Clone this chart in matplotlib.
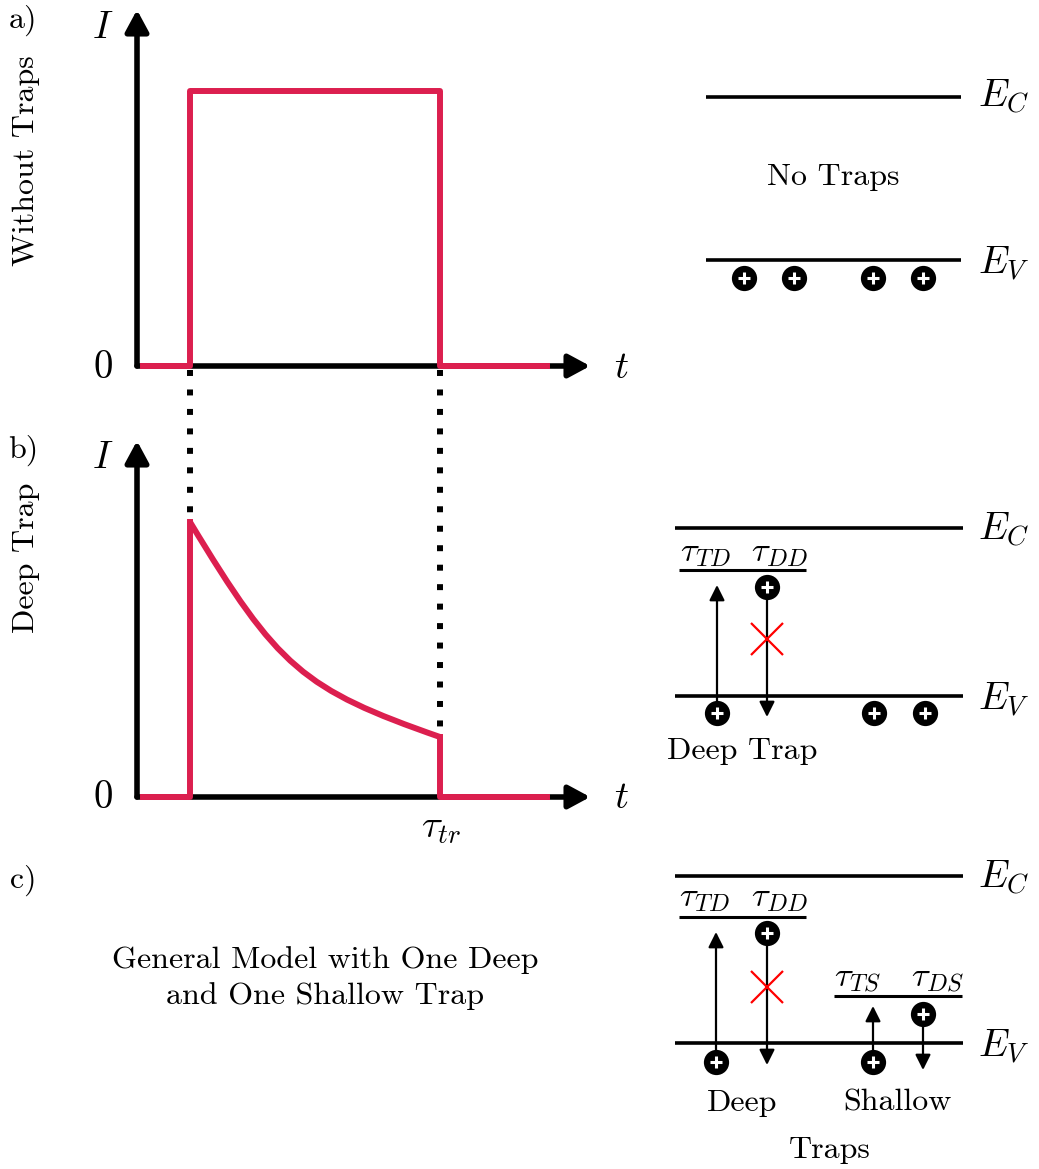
import matplotlib
matplotlib.use("Agg")
import matplotlib.pyplot as plt
from matplotlib.path import Path
from matplotlib.patches import PathPatch

plt.rcParams['font.family'] = 'cmr10'
plt.rcParams['mathtext.fontset'] = 'cm'
plt.rcParams['axes.unicode_minus'] = False

W, H = 1039, 1169
RED = '#dc1f4f'

# current traces: t in arbitrary units, I normalised to the pulse height
t_pulse = [0.11, 1.0, 1.0, 5.72, 5.72, 7.74]
I_pulse = [0, 0, 1.0, 1.0, 0, 0]

# deep trap trace: step up, decay (cubic bezier control points), step down
t_rise = [0.11, 1.0, 1.0]
I_rise = [0, 0, 1.0]
t_decay_ctrl = [1.0, 2.66, 3.13, 5.72]
I_decay_ctrl = [1.0, 0.47, 0.392, 0.218]
t_fall = [5.72, 5.72, 7.74]
I_fall = [0.218, 0, 0]

t_on, t_off = 1.0, 5.72
T_MAX, I_MAX = 8.55, 1.295
PX_T, PX_I = 53, 275     # pixels per unit

# band diagrams (pixel positions on the page)
a_EC, a_EV, a_x = 97, 260, (706, 961)
a_holes_x = [744, 794, 873, 923]
a_holes_y = 278

b_EC, b_trap, b_EV = 528, 570, 696
c_EC, c_deep, c_shallow, c_EV = 876, 917, 996, 1043
level_x = (675, 963)
deep_x = (679, 806)
shallow_x = (834, 962)

fig = plt.figure(figsize=(W / 100, H / 100), dpi=100)
ax = fig.add_axes([0, 0, 1, 1])
ax.set_xlim(0, W)
ax.set_ylim(H, 0)
ax.axis('off')


def arrow(axp, start, end, lw, ms, hl=0.4, hw=0.2):
    axp.annotate('', xy=end, xytext=start,
                 arrowprops=dict(arrowstyle='-|>,head_length=%g,head_width=%g' % (hl, hw),
                                 lw=lw, color='black', mutation_scale=ms,
                                 shrinkA=0, shrinkB=0),
                 annotation_clip=False, zorder=3)


def current_panel(x0, y0):
    axp = fig.add_axes([x0 / W, (H - y0) / H, T_MAX * PX_T / W, I_MAX * PX_I / H])
    axp.set_xlim(0, T_MAX)
    axp.set_ylim(0, I_MAX)
    axp.axis('off')
    arrow(axp, (0, 0), (T_MAX, 0), 4, 26, 0.5, 0.27)
    arrow(axp, (0, 0), (0, I_MAX), 4, 26, 0.5, 0.27)
    return axp


ax_a = current_panel(137, 366)
ax_a.plot(t_pulse, I_pulse, color=RED, lw=4.3, clip_on=False, zorder=4)

ax_b = current_panel(137, 797)
ax_b.plot(t_rise, I_rise, color=RED, lw=4.3, clip_on=False, zorder=4)
ax_b.plot(t_fall, I_fall, color=RED, lw=4.3, clip_on=False, zorder=4)
decay = Path(list(zip(t_decay_ctrl, I_decay_ctrl)),
             [Path.MOVETO, Path.CURVE4, Path.CURVE4, Path.CURVE4])
ax_b.add_patch(PathPatch(decay, facecolor='none', edgecolor=RED, lw=4.3,
                         clip_on=False, zorder=4))
# dotted guide lines between the two panels
dot = dict(color='black', lw=4.3, linestyle=(0, (1.0, 2.26)), dash_capstyle='butt',
           clip_on=False, zorder=2)
ax_b.plot([t_on, t_on], [1.553, 1.03], **dot)
ax_b.plot([t_off, t_off], [1.553, 0.25], **dot)

# left side labels
big = 28
txt = 23
tau = 25
for y in (28, 458):
    ax.text(103, y, '$I$', fontsize=big, ha='center', va='center')
for y in (368, 798):
    ax.text(103, y, '0', fontsize=big, ha='center', va='center')
    ax.text(621, y, '$t$', fontsize=big, ha='center', va='center')
ax.text(441, 828, r'$\tau_{tr}$', fontsize=big, ha='center', va='center')
ax.text(23, 20, 'a)', fontsize=txt, ha='center', va='center')
ax.text(23, 450, 'b)', fontsize=txt, ha='center', va='center')
ax.text(23, 880, 'c)', fontsize=txt, ha='center', va='center')
ax.text(26, 161, 'Without Traps', fontsize=txt, rotation=90, ha='center', va='center')
ax.text(26, 558, 'Deep Trap', fontsize=txt, rotation=90, ha='center', va='center')
ax.text(325, 978, 'General Model with One Deep\nand One Shallow Trap', fontsize=txt,
        ha='center', va='center', linespacing=1.4)


def level(x, y, lw=2.6):
    ax.plot(x, [y, y], color='black', lw=lw, solid_capstyle='butt', zorder=2)


def hole(x, y):
    ax.scatter(x, y, s=330, color='black', zorder=5, linewidths=0)
    ax.plot(x, y, ls='none', marker='+', ms=9, mew=2.2, color='white', zorder=6)


def elabel(y, sub):
    ax.text(978, y, '$E_{%s}$' % sub, fontsize=big, ha='left', va='center')


# a) no traps
level(a_x, a_EC)
level(a_x, a_EV)
elabel(a_EC, 'C')
elabel(a_EV + 4, 'V')
ax.text(833, 177, 'No Traps', fontsize=txt, ha='center', va='center')
hole(a_holes_x, [a_holes_y] * 4)

# b) deep trap
level(level_x, b_EC)
level(level_x, b_EV)
level(deep_x, b_trap, lw=2.2)
elabel(b_EC + 2, 'C')
elabel(b_EV + 4, 'V')
ax.text(705, 553, r'$\tau_{TD}$', fontsize=tau, ha='center', va='center')
ax.text(779, 553, r'$\tau_{DD}$', fontsize=tau, ha='center', va='center')
arrow(ax, (717, 713), (717, 585), 1.6, 23)
arrow(ax, (767, 587), (767, 717), 1.6, 23)
ax.plot([767], [639], marker='x', ms=23, mew=1.6, color='red', zorder=4)
hole([717, 767, 874, 925], [713, 587, 713, 713])
ax.text(742, 751, 'Deep Trap', fontsize=txt, ha='center', va='center')

# c) deep and shallow traps
level(level_x, c_EC)
level(level_x, c_EV)
level(deep_x, c_deep, lw=2.2)
level(shallow_x, c_shallow, lw=2.2)
elabel(c_EC + 2, 'C')
elabel(c_EV + 4, 'V')
ax.text(704, 898, r'$\tau_{TD}$', fontsize=tau, ha='center', va='center')
ax.text(779, 898, r'$\tau_{DD}$', fontsize=tau, ha='center', va='center')
ax.text(857, 979, r'$\tau_{TS}$', fontsize=tau, ha='center', va='center')
ax.text(937, 979, r'$\tau_{DS}$', fontsize=tau, ha='center', va='center')
arrow(ax, (716, 1062), (716, 932), 1.6, 23)
arrow(ax, (767, 933), (767, 1065), 1.6, 23)
arrow(ax, (873, 1062), (873, 1006), 1.6, 23)
arrow(ax, (923, 1014), (923, 1070), 1.6, 23)
ax.plot([767], [987], marker='x', ms=23, mew=1.6, color='red', zorder=4)
hole([716, 767, 873, 923], [1062, 933, 1062, 1014])
ax.text(742, 1103, 'Deep', fontsize=txt, ha='center', va='center')
ax.text(897, 1103, 'Shallow', fontsize=txt, ha='center', va='center')
ax.text(830, 1150, 'Traps', fontsize=txt, ha='center', va='center')

fig.savefig('out.png', dpi=100)
